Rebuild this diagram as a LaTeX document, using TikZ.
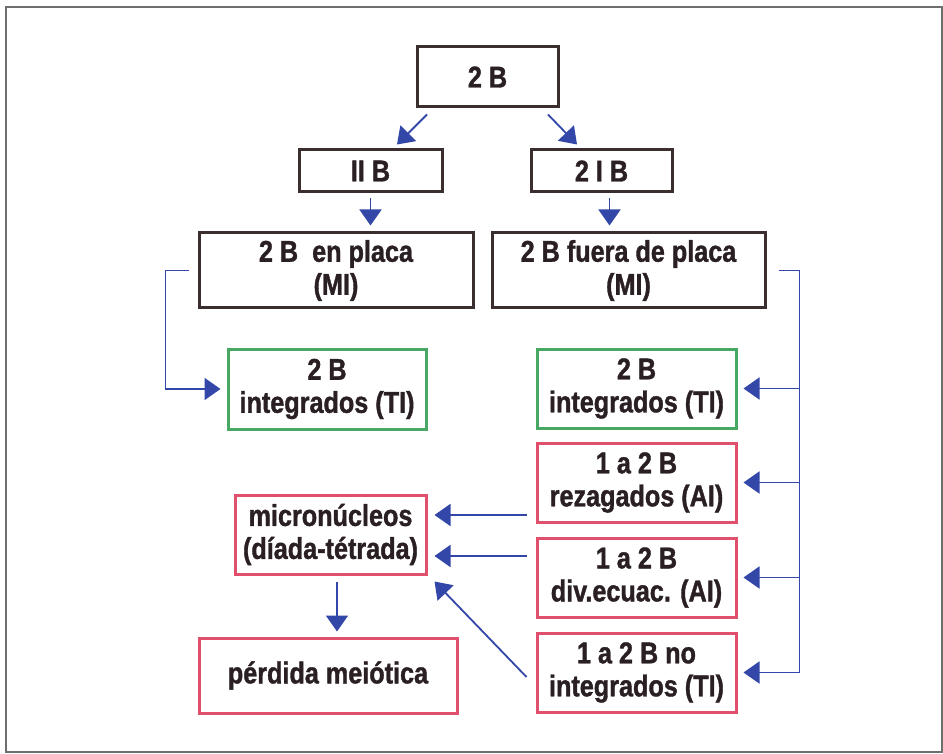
\documentclass[tikz,border=0pt]{standalone}
\usepackage{fontspec}
\setmainfont{Liberation Sans}[FakeStretch=0.84, BoldFeatures={FakeBold=1.2}]
\usetikzlibrary{arrows.meta,calc}
\definecolor{inkc}{HTML}{2A2024}
\definecolor{edgec}{HTML}{3A2E2F}
\definecolor{greenc}{HTML}{46A862}
\definecolor{redc}{HTML}{E0506C}
\definecolor{bluec}{HTML}{3347A8}
\definecolor{framec}{HTML}{6E6E6E}
\begin{document}
\begin{tikzpicture}[x=1pt,y=-1pt,
  lbl/.style={font=\bfseries\fontsize{30}{33}\selectfont, text=inkc, align=center, inner sep=0pt},
  box/.style={lbl, draw=edgec, line width=3pt, rectangle},
  gbox/.style={lbl, draw=greenc, line width=3pt, rectangle},
  rbox/.style={lbl, draw=redc, line width=3pt, rectangle},
  sz/.style 2 args={minimum width=#1pt, minimum height=#2pt},
  arr/.style={draw=bluec, line width=1.8pt, -{Triangle[length=16pt,width=22pt]}},
  link/.style={draw=bluec, line width=1.8pt}]

% page and outer frame
\useasboundingbox (0,0) rectangle (943,754);
\fill[white] (0,0) rectangle (943,754);
\draw[framec, line width=1.8pt] (6,7) rectangle (942,752);

% boxes
\node[box, sz={141}{60}]  (B0) at (487.5,77)    {2 B};
\node[box, sz={143}{42}]  (B1) at (370.5,171)   {II B};
\node[box, sz={141}{42}]  (B2) at (601.5,171)   {2 I B};
\node[box, sz={274}{75}]  (B3) at (336,270.5)   {2 B\ \ en placa\\(MI)};
\node[box, sz={273}{75}]  (B4) at (628.5,270.5) {2 B fuera de placa\\(MI)};
\node[gbox, sz={198}{80}] (G1) at (327,389)     {2 B\\integrados (TI)};
\node[gbox, sz={199}{79}] (G2) at (636.5,388.5) {2 B\\integrados (TI)};
\node[rbox, sz={199}{79}] (R1) at (636.5,482.5) {1 a 2 B\\rezagados (AI)};
\node[rbox, sz={199}{79}] (R2) at (636.5,577.5) {1 a 2 B\\div.ecuac. (AI)};
\node[rbox, sz={199}{79}] (R3) at (636.5,672.5) {1 a 2 B no\\integrados (TI)};
\node[rbox, sz={191}{79}] (M)  at (330.5,534.5) {micronúcleos\\(díada-tétrada)};
\node[rbox, sz={258}{75}] (P)  at (328,675.5)   {pérdida meiótica};

% splitting of the top box
\draw[arr] ($(B0.south)+(-60.5,6)$) -- ($(B1.north)+(26.5,-4)$);
\draw[arr] ($(B0.south)+(60.5,6)$)  -- ($(B2.north)+(-24.5,-4)$);

% second level down to first metaphase
\draw[arr] ($(B1.south)+(0,5)$) -- ($(B1.south |- B3.north)+(0,-6)$);
\draw[arr] ($(B2.south)+(8,5)$) -- ($(B2.south |- B4.north)+(8,-6)$);

% left branch: bracket to the integrated box
\draw[link] ($(B3.west)+(-9,0)$) -- ($(B3.west)+(-32,0)$) |- ($(G1.west)+(-20,0)$);
\draw[arr]  ($(G1.west)+(-30,0)$) -- ($(G1.west)+(-6,0)$);

% right branch: bus feeding the four outcomes
\coordinate (bus) at ($(B4.east)+(33,0)$);
\draw[link] ($(B4.east)+(12,0)$) -- (bus) -- (bus |- R3.east);
\draw[arr] (bus |- G2.east) -- ($(G2.east)+(6,0)$);
\draw[arr] (bus |- R1.east) -- ($(R1.east)+(6,0)$);
\draw[arr] (bus |- R2.east) -- ($(R2.east)+(6,0)$);
\draw[arr] (bus |- R3.east) -- ($(R3.east)+(6,0)$);

% outcomes feeding the micronuclei
\coordinate (mE) at ($(M.east)+(7,0)$);
\coordinate (r1o) at ($(R1.west)+(-9,32.5)$);
\coordinate (r2o) at ($(R2.west)+(-9,-21.5)$);
\draw[arr] (r1o) -- (mE |- r1o);
\draw[arr] (r2o) -- (mE |- r2o);
\draw[arr] ($(R3.west)+(-9,4.5)$) -- ($(M.south east)+(7,6)$);

% micronuclei to meiotic loss
\draw[arr] ($(M.south)+(6.5,6)$) -- ($(M.south |- P.north)+(6.5,-5)$);
\end{tikzpicture}
\end{document}
